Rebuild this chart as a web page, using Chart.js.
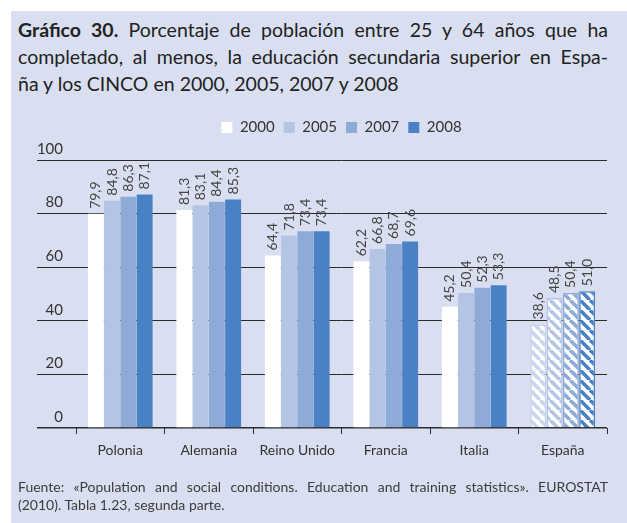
<!DOCTYPE html>
<html><head><meta charset="utf-8">
<script src="https://cdn.jsdelivr.net/npm/chart.js@4.4.1/dist/chart.umd.min.js"></script>
<style>
html,body{margin:0;padding:0;background:#fff;}
#wrap{position:relative;width:627px;height:523px;overflow:hidden;font-family:Lato, sans-serif;}
#panel{position:absolute;left:11px;top:11px;width:616px;height:512px;background:#d9dff0;}
#title{position:absolute;left:18px;top:16px;width:590px;font-size:19.5px;line-height:27px;color:#222;}
#title div{white-space:nowrap;}
.j{text-align:justify;text-align-last:justify;}
#foot{position:absolute;left:18px;top:478px;width:590px;font-size:14px;line-height:18px;color:#3c3c3c;}
#foot div{white-space:nowrap;}
canvas{position:absolute;left:0;top:0;}
</style></head>
<body><div id="wrap"><div id="panel"></div>
<div id="title"><div class="j"><b>Gráfico 30.</b> Porcentaje de población entre 25 y 64 años que ha</div><div class="j">completado, al menos, la educación secundaria superior en Espa-</div><div>ña y los CINCO en 2000, 2005, 2007 y 2008</div></div>
<canvas id="c" width="627" height="523"></canvas>
<div id="foot"><div class="j">Fuente: «Population and social conditions. Education and training statistics». EUROSTAT</div><div>(2010). Tabla 1.23, segunda parte.</div></div>
</div>
<script>
const categories = ['Polonia','Alemania','Reino Unido','Francia','Italia','España'];
const years = ['2000','2005','2007','2008'];
const v2000 = [79.9,81.3,64.4,62.2,45.2,38.6];
const v2005 = [84.8,83.1,71.8,66.8,50.4,48.5];
const v2007 = [86.3,84.4,73.4,68.7,52.3,50.4];
const v2008 = [87.1,85.3,73.4,69.6,53.3,51.0];
const yTicks = [0,20,40,60,80,100];

const colors = ['#ffffff','#b3c4e4','#8eaad7','#4a81c4'];
const stripeColors = ['#c9d4ee','#b3c4e4','#8eaad7','#4a81c4'];
const patternIndex = 5;

const ctx0 = document.getElementById('c').getContext('2d');
const patterns = stripeColors.map(c => {
  const t = document.createElement('canvas');
  t.width = 10; t.height = 10;
  const g = t.getContext('2d');
  g.fillStyle = '#ffffff'; g.fillRect(0,0,10,10);
  g.strokeStyle = c; g.lineWidth = 3.6;
  for (const k of [-10,0,10]) { g.beginPath(); g.moveTo(k,0); g.lineTo(k+10,10); g.stroke(); }
  return ctx0.createPattern(t,'repeat');
});

const series = [v2000, v2005, v2007, v2008];
const datasets = series.map((vals,k) => ({
  label: years[k],
  data: vals,
  backgroundColor: categories.map((c,j) => j === patternIndex ? patterns[k] : colors[k]),
  borderColor: categories.map((c,j) => j === patternIndex ? stripeColors[k] : colors[k]),
  borderWidth: categories.map((c,j) => j === patternIndex ? 1.5 : 0),
  categoryPercentage: 0.735,
  barPercentage: 0.98
}));

const labelPlugin = {
  id: 'vlabels',
  afterDatasetsDraw(chart){
    const ctx = chart.ctx;
    ctx.save();
    ctx.font = '14px Lato';
    ctx.fillStyle = '#444';
    ctx.textAlign = 'left';
    ctx.textBaseline = 'middle';
    chart.data.datasets.forEach((ds,i) => {
      const meta = chart.getDatasetMeta(i);
      meta.data.forEach((el,j) => {
        const t = ds.data[j].toFixed(1).replace('.', ',');
        ctx.save();
        ctx.translate(el.x, el.y - 5);
        ctx.rotate(-Math.PI/2);
        ctx.fillText(t, 0, 0);
        ctx.restore();
      });
    });
    ctx.restore();
  }
};

// y tick labels: right edge at x=63 while chart area starts at x=76
ctx0.save(); ctx0.font = '15px Lato';
const widestY = Math.max(...yTicks.map(v => ctx0.measureText(String(v)).width));
ctx0.restore();
const yLabelPad = 63 - 76 - widestY;

new Chart(ctx0, {
  type: 'bar',
  data: { labels: categories, datasets },
  options: {
    responsive: false,
    animation: false,
    devicePixelRatio: 1,
    layout: { padding: { top: 111, left: 76, right: 20, bottom: 0 } },
    plugins: {
      legend: {
        position: 'top',
        labels: { boxWidth: 11, boxHeight: 11, padding: 9, color: '#333', font: { size: 15, family: 'Lato' } }
      },
      subtitle: { display: true, text: '', weight: 500, position: 'top', padding: 0, font: { size: 10, lineHeight: 1.5 } },
      title: { display: false },
      tooltip: { enabled: false }
    },
    scales: {
      x: {
        afterFit: s => { s.height = 95; },
        border: { display: false },
        grid: { display: true, drawOnChartArea: false, drawTicks: true, tickLength: 6, color: '#2a2a2a', offset: true },
        ticks: { font: { size: 14, family: 'Lato' }, color: '#333', padding: 8, maxRotation: 0, autoSkip: false }
      },
      y: {
        min: 0, max: 100,
        afterBuildTicks: s => { s.ticks = yTicks.map(v => ({ value: v })); },
        afterFit: s => { s.width = 0; },
        border: { display: false },
        grid: {
          color: '#2a2a2a', tickColor: '#2a2a2a', tickLength: 39,
          lineWidth: c => (c.tick && c.tick.value === 0) ? 1.5 : 1,
          tickWidth: c => (c.tick && c.tick.value === 0) ? 1.5 : 1
        },
        ticks: { font: { size: 15, family: 'Lato' }, color: '#333', mirror: true, crossAlign: 'far', padding: yLabelPad, labelOffset: -11 }
      }
    }
  },
  plugins: [labelPlugin]
});
</script>
</body></html>
